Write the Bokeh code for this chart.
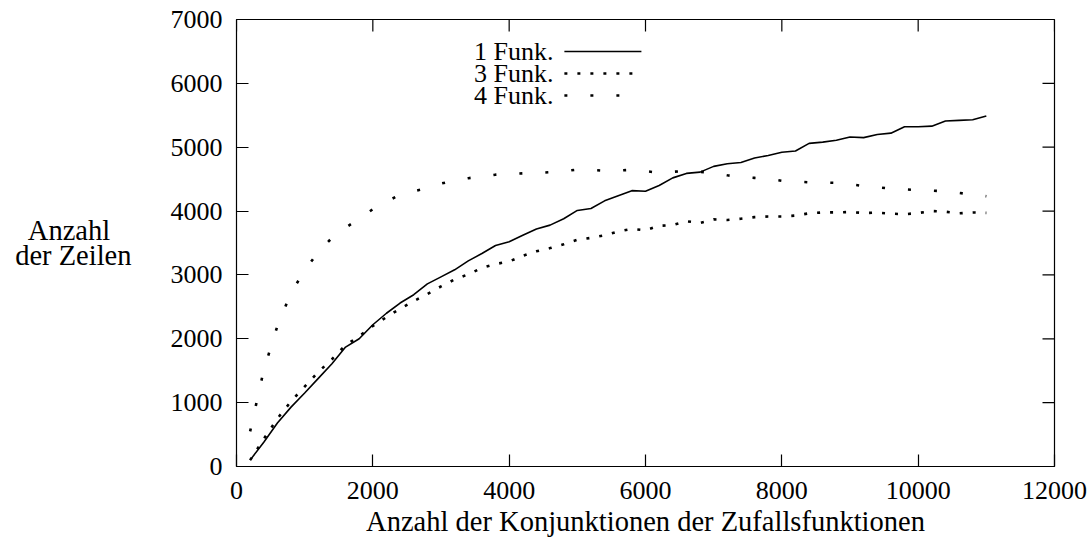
from bokeh.plotting import figure
from bokeh.models import Range1d, FixedTicker
from bokeh.embed import file_html
from bokeh.resources import INLINE

# number of conjunctions (x) for all three series
conjunctions = list(range(200, 11001, 200))

# number of rows, one function
rows_1 = [100, 380, 680, 930, 1150, 1380, 1610, 1870, 2000, 2220,
          2400, 2560, 2690, 2860, 2970, 3080, 3220, 3335, 3460, 3520,
          3620, 3720, 3780, 3880, 4010, 4040, 4160, 4240, 4320, 4310,
          4400, 4520, 4590, 4610, 4700, 4740, 4760, 4830, 4870, 4920,
          4940, 5060, 5080, 5110, 5160, 5150, 5200, 5220, 5320, 5320,
          5330, 5410, 5420, 5430, 5490]

# number of rows, three functions
rows_3 = [100, 430, 750, 1020, 1250, 1480, 1680, 1900, 2040, 2200,
          2340, 2470, 2590, 2700, 2820, 2930, 3010, 3110, 3170, 3210,
          3300, 3370, 3420, 3480, 3550, 3580, 3620, 3680, 3720, 3700,
          3770, 3780, 3840, 3815, 3870, 3860, 3880, 3905, 3915, 3915,
          3930, 3965, 3978, 3980, 3985, 3970, 3975, 3960, 3950, 3970,
          4000, 3990, 3965, 3978, 3972]

# number of rows, four functions
rows_4 = [550, 1510, 2200, 2720, 3070, 3360, 3580, 3740, 3880, 4030,
          4150, 4255, 4310, 4360, 4430, 4480, 4515, 4540, 4570, 4580,
          4590, 4595, 4610, 4625, 4650, 4645, 4630, 4635, 4645, 4625,
          4600, 4615, 4630, 4615, 4595, 4560, 4535, 4520, 4505, 4475,
          4462, 4450, 4447, 4442, 4420, 4392, 4375, 4350, 4340, 4328,
          4320, 4312, 4285, 4258, 4233]

x_ticks = [0, 2000, 4000, 6000, 8000, 10000, 12000]
y_ticks = [0, 1000, 2000, 3000, 4000, 5000, 6000, 7000]

series_labels = ["1 Funk.", "3 Funk.", "4 Funk."]
x_title = "Anzahl der Konjunktionen der Zufallsfunktionen"
# the axis title lines are right-aligned by Bokeh; pad the short first line
# with no-break spaces so both lines sit centred over each other
y_title = "Anzahl\u00a0\u00a0\u00a0\nder Zeilen"

FONT = "Liberation Serif"
X_MAX, Y_MAX = 12000, 7000

p = figure(width=1090, height=543, output_backend="svg", toolbar_location=None,
           x_range=Range1d(0, X_MAX), y_range=Range1d(0, Y_MAX),
           min_border_left=236, min_border_right=36,
           min_border_top=19, min_border_bottom=77)
p.background_fill_color = "white"
p.border_fill_color = "white"
p.outline_line_color = "black"
p.outline_line_width = 1.2
p.grid.visible = False

p.xaxis.ticker = FixedTicker(ticks=x_ticks)
p.yaxis.ticker = FixedTicker(ticks=y_ticks)

for ax in p.axis:
    ax.axis_line_color = None
    ax.major_tick_in = 12
    ax.major_tick_out = 0
    ax.minor_tick_in = 0
    ax.minor_tick_out = 0
    ax.major_tick_line_color = "black"
    ax.major_tick_line_width = 1.2
    ax.major_label_text_font = FONT
    ax.major_label_text_font_size = "26px"
    ax.major_label_text_color = "black"
    ax.axis_label_text_font = FONT
    ax.axis_label_text_font_style = "normal"
    ax.axis_label_text_color = "black"

xa = p.below[0]
xa.major_label_standoff = 15
xa.axis_label = x_title
xa.axis_label_text_font_size = "28.5px"
xa.axis_label_standoff = 4

ya = p.left[0]
ya.major_label_standoff = 14
ya.axis_label = y_title
ya.axis_label_orientation = "horizontal"
ya.axis_label_text_font_size = "28.5px"
ya.axis_label_text_line_height = 0.8
ya.axis_label_standoff = 36

# mirrored inward ticks along the top and right edges (12 px long)
tick_dx = 12 / 818 * X_MAX
tick_dy = 12 / 447 * Y_MAX
p.segment(x0=x_ticks, y0=[Y_MAX] * len(x_ticks), x1=x_ticks,
          y1=[Y_MAX - tick_dy] * len(x_ticks), line_color="black", line_width=1.2)
p.segment(x0=[X_MAX] * len(y_ticks), y0=y_ticks, x1=[X_MAX - tick_dx] * len(y_ticks),
          y1=y_ticks, line_color="black", line_width=1.2)

# curves
p.line(conjunctions, rows_1, line_color="black", line_width=1.6)
p.line(conjunctions, rows_3, line_color="black", line_width=2.6,
       line_dash="3 10", line_cap="butt")
p.line(conjunctions, rows_4, line_color="black", line_width=2.6,
       line_dash="3 23", line_cap="butt")

# key: label on the left, line sample on the right
key_text_x = 4650
key_x = [4810, 5940]
key_y = [6500, 6155, 5810]
dashes = ["solid", "3 10", "3 23"]
widths = [1.6, 2.6, 2.6]
p.text(x=[key_text_x] * 3, y=key_y, text=series_labels, text_align="right",
       text_baseline="middle", text_font={"value": FONT},
       text_font_size="26px", text_color="black")
for ky, dash, w in zip(key_y, dashes, widths):
    p.line(key_x, [ky, ky], line_color="black", line_width=w,
           line_dash=dash, line_cap="butt")

open("out.html", "w").write(file_html(p, INLINE))
